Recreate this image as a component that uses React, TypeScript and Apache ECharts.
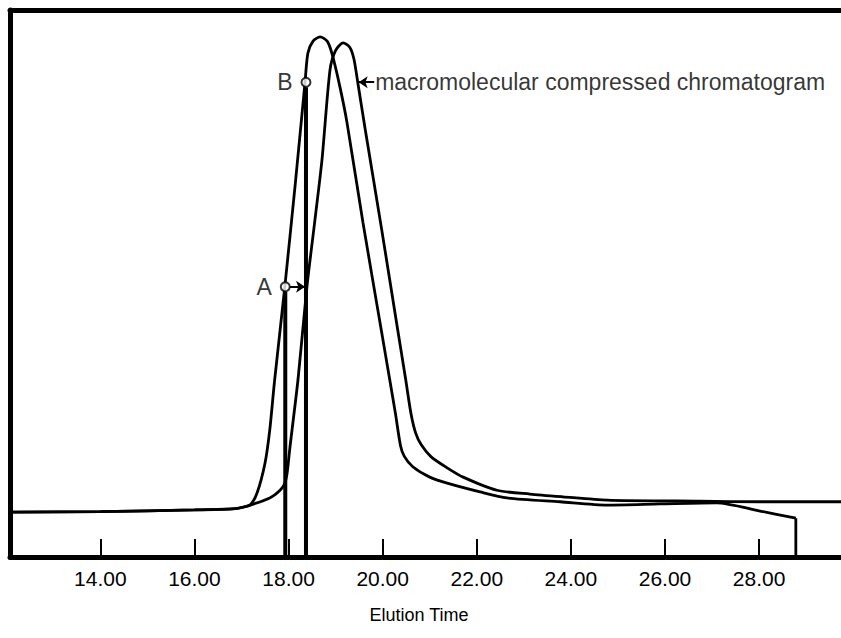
import React, { useEffect, useRef } from 'react';
import * as echarts from 'echarts';

const FONT = '"Liberation Sans", Arial, Helvetica, sans-serif';

const xTicks = [14, 16, 18, 20, 22, 24, 26, 28];
const xMin = 12.08;
const xMax = 29.74;
const xAxisTitle = 'Elution Time';

// original chromatogram (left peak)
const originalCurve: [number, number][] = [
  [12.08, 8.2], [14.0, 8.3], [16.0, 8.6], [16.8, 8.8], [16.97, 9.0], [17.18, 9.5],
  [17.33, 11.7], [17.5, 17.2], [17.6, 23.2], [17.7, 32.0], [17.92, 49.4], [18.14, 68.0],
  [18.35, 86.8], [18.41, 92.1], [18.52, 94.3], [18.67, 95.1], [18.82, 94.3], [18.92, 92.1],
  [19.09, 86.0], [19.24, 79.5], [19.58, 61.2], [19.97, 41.5], [20.15, 32.4], [20.27, 26.3],
  [20.38, 20.3], [20.46, 18.4], [20.64, 16.5], [21.0, 14.6], [21.37, 13.5], [22.07, 11.9],
  [22.64, 10.8], [23.77, 10.1], [24.77, 9.5], [25.89, 9.7], [27.1, 9.9], [28.02, 8.4],
  [28.78, 7.1],
];
const originalEndDrop: [number, number][] = [[28.78, 7.1], [28.78, 0]];

// macromolecular compressed chromatogram (right peak)
const compressedCurve: [number, number][] = [
  [12.08, 8.2], [14.0, 8.3], [16.0, 8.6], [16.8, 8.8], [17.03, 9.1], [17.6, 10.8],
  [17.82, 12.2], [17.92, 13.5], [17.97, 15.4], [18.03, 20.1], [18.2, 32.4], [18.39, 49.4],
  [18.56, 61.6], [18.71, 72.6], [18.88, 89.0], [19.0, 92.6], [19.16, 94.0], [19.3, 93.2],
  [19.39, 91.0], [19.47, 86.8], [19.63, 78.1], [19.98, 59.8], [20.32, 41.5], [20.49, 32.4],
  [20.6, 26.3], [20.7, 22.7], [20.82, 20.5], [21.03, 18.3], [21.37, 16.3], [21.71, 14.6],
  [22.43, 12.2], [23.13, 11.5], [23.83, 11.0], [24.77, 10.4], [26.74, 10.2], [28.02, 10.1],
  [29.74, 10.1],
];

const markerPoints = [
  { name: 'A', value: [17.93, 49.4] },
  { name: 'B', value: [18.37, 86.8] },
];
const markerDropA: [number, number][] = [[17.93, 0], [17.93, 48.5]];
const markerDropB: [number, number][] = [[18.37, 0], [18.37, 85.9]];
const arrowA: [number, number][] = [[18.02, 49.4], [18.35, 49.4]];
const arrowLabel: [number, number][] = [[19.82, 86.8], [19.49, 86.8]];
const annotationText = 'macromolecular compressed chromatogram';
const annotationAt: [number, number] = [19.84, 86.8];

export default function App() {
  const ref = useRef<HTMLDivElement>(null);
  useEffect(() => {
    if (!ref.current) return;
    const chart = echarts.init(ref.current, undefined, { renderer: 'svg' });
    const black = '#000';
    chart.setOption({
      animation: false,
      backgroundColor: '#fff',
      grid: { left: 10, right: 0, top: 10, bottom: 81 },
      xAxis: [
        {
          type: 'value',
          min: xMin,
          max: xMax,
          position: 'bottom',
          axisLine: { show: true, onZero: false, lineStyle: { color: black, width: 5 } },
          axisTick: { show: true, inside: true, length: 18, customValues: xTicks, lineStyle: { color: black, width: 2 } },
          axisLabel: {
            show: true,
            customValues: xTicks,
            formatter: (v: number) => v.toFixed(2),
            color: black,
            fontSize: 21,
            fontFamily: FONT,
            margin: 11,
          },
          splitLine: { show: false },
          name: xAxisTitle,
          nameLocation: 'middle',
          nameGap: 49,
          nameTextStyle: { color: black, fontSize: 18, fontFamily: FONT, padding: [0, 13, 0, 0] },
        },
        {
          type: 'value',
          min: xMin,
          max: xMax,
          position: 'top',
          axisLine: { show: true, onZero: false, lineStyle: { color: black, width: 5 } },
          axisTick: { show: false },
          axisLabel: { show: false },
          splitLine: { show: false },
        },
      ],
      yAxis: {
        type: 'value',
        min: 0,
        max: 100,
        axisLine: { show: true, onZero: false, lineStyle: { color: black, width: 5 } },
        axisTick: { show: false },
        axisLabel: { show: false },
        splitLine: { show: false },
      },
      series: [
        {
          type: 'line',
          data: originalCurve,
          smooth: 0.25,
          symbol: 'none',
          lineStyle: { color: black, width: 2.8 },
          z: 3,
        },
        {
          type: 'line',
          data: originalEndDrop,
          symbol: 'none',
          lineStyle: { color: black, width: 2.8 },
          z: 3,
        },
        {
          type: 'line',
          data: compressedCurve,
          smooth: 0.25,
          symbol: 'none',
          lineStyle: { color: black, width: 2.8 },
          z: 3,
        },
        {
          type: 'line',
          data: markerDropA,
          symbol: 'none',
          lineStyle: { color: black, width: 4 },
          z: 4,
        },
        {
          type: 'line',
          data: markerDropB,
          symbol: 'none',
          lineStyle: { color: black, width: 4 },
          z: 4,
          markLine: {
            silent: true,
            symbol: ['none', 'arrow'],
            symbolSize: 9,
            label: { show: false },
            lineStyle: { color: black, width: 2, type: 'solid' },
            data: [
              [{ coord: arrowA[0] }, { coord: arrowA[1] }],
              [{ coord: arrowLabel[0] }, { coord: arrowLabel[1] }],
            ],
          },
        },
        {
          type: 'scatter',
          data: markerPoints,
          symbol: 'circle',
          symbolSize: 9,
          itemStyle: { color: '#fff', borderColor: black, borderWidth: 2 },
          label: {
            show: true,
            position: 'left',
            distance: 8,
            formatter: (p: any) => p.name,
            color: black,
            fontSize: 23,
            fontFamily: FONT,
          },
          z: 6,
        },
        {
          type: 'scatter',
          data: [{ name: annotationText, value: annotationAt }],
          symbolSize: 0,
          label: {
            show: true,
            position: 'right',
            distance: 0,
            formatter: (p: any) => p.name,
            color: black,
            fontSize: 23,
            fontFamily: FONT,
          },
          z: 6,
        },
      ],
    });
    return () => chart.dispose();
  }, []);
  return (
    <div
      ref={ref}
      style={{ position: 'fixed', left: 0, top: 0, width: 841, height: 638, background: '#fff' }}
    />
  );
}
